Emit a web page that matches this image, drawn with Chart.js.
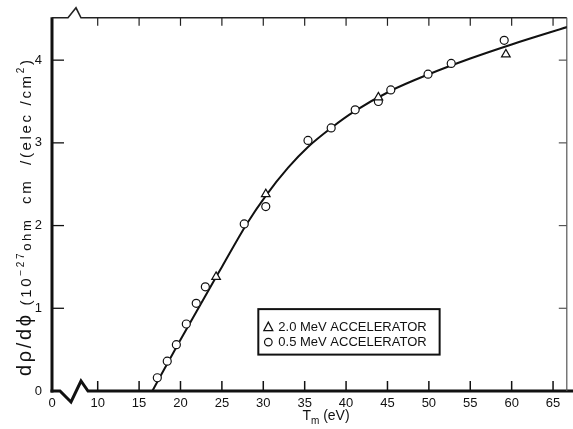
<!DOCTYPE html>
<html><head><meta charset="utf-8">
<script src="https://cdn.jsdelivr.net/npm/chart.js@4.4.1/dist/chart.umd.min.js"></script>
<style>html,body{margin:0;padding:0;background:#fff;}#wrap{width:573px;height:429px;}</style>
</head><body><div id="wrap"><canvas id="c" width="573" height="429"></canvas></div>
<script>
// ---- data ----
const xTicks = [10,15,20,25,30,35,40,45,50,55,60,65];
const yTicks = [0,1,2,3,4];
const circleX = [17.2,18.4,19.5,20.7,21.9,23.0,27.7,30.3,35.4,38.2,41.1,43.9,45.4,49.9,52.7,59.1];
const circleY = [0.16,0.36,0.56,0.81,1.06,1.26,2.02,2.23,3.03,3.18,3.40,3.50,3.64,3.83,3.96,4.24];
const triX = [24.3,30.3,43.9,59.3];
const triY = [1.38,2.38,3.55,4.07];
const curveX = [16.6,20,25,28,30.3,33,35.4,38.2,41,45.4,50,55,60,66.7];
const curveY = [0,0.62,1.50,2.02,2.36,2.70,2.95,3.18,3.38,3.63,3.83,4.02,4.19,4.40];
const legendLabels = ['2.0 MeV ACCELERATOR','0.5 MeV ACCELERATOR'];
const X_MIN = 4.48, X_MAX = 66.66, Y_MIN = 0, Y_MAX = 4.512;

const FONT = "'Liberation Sans', 'DejaVu Sans', sans-serif";
const toPts = (xs, ys) => xs.map((v,i)=>({x:v, y:ys[i]}));

const framePlugin = {
  id:'frame',
  beforeDatasetsDraw(chart){
    const {ctx, chartArea:a, scales:{x,y}} = chart;
    const L=a.left, R=a.right, T=a.top, B=a.bottom, W=chart.width;
    ctx.save();
    ctx.strokeStyle='#111'; ctx.lineJoin='miter'; ctx.lineCap='butt';
    ctx.lineWidth=3;
    ctx.beginPath(); ctx.moveTo(L, T-0.5); ctx.lineTo(L, B+1.5); ctx.stroke();
    ctx.beginPath(); ctx.moveTo(L-1.5,B); ctx.lineTo(L+8,B); ctx.lineTo(L+19,B+11);
    ctx.lineTo(L+29,B-10); ctx.lineTo(L+36,B); ctx.lineTo(W,B); ctx.stroke();
    ctx.lineWidth=1.5;
    xTicks.forEach(v=>{const px=x.getPixelForValue(v); ctx.beginPath(); ctx.moveTo(px,B); ctx.lineTo(px,B-10); ctx.stroke();});
    ctx.lineWidth=1.3;
    yTicks.slice(1).forEach(v=>{const py=y.getPixelForValue(v); ctx.beginPath(); ctx.moveTo(L,py); ctx.lineTo(L+12,py); ctx.stroke();});
    ctx.lineWidth=1.6; ctx.strokeStyle='#222';
    ctx.beginPath(); ctx.moveTo(L,T); ctx.lineTo(L+16,T); ctx.lineTo(L+24,T-10); ctx.lineTo(L+29,T); ctx.lineTo(R,T); ctx.stroke();
    ctx.lineWidth=1.2;
    xTicks.forEach(v=>{const px=x.getPixelForValue(v); ctx.beginPath(); ctx.moveTo(px,T); ctx.lineTo(px,T+8); ctx.stroke();});
    ctx.strokeStyle='#555'; ctx.lineWidth=1.2;
    ctx.beginPath(); ctx.moveTo(R,T); ctx.lineTo(R,B); ctx.stroke();
    yTicks.slice(1).forEach(v=>{const py=y.getPixelForValue(v); ctx.beginPath(); ctx.moveTo(R,py); ctx.lineTo(R-8,py); ctx.stroke();});
    ctx.restore();
  },
  afterDatasetsDraw(chart){
    const {ctx, scales:{x,y}} = chart;
    ctx.save();
    const x0=x.getPixelForValue(29.4), x1=x.getPixelForValue(51.3);
    const y0=y.getPixelForValue(0.99), y1=y.getPixelForValue(0.44);
    ctx.fillStyle='#fff'; ctx.fillRect(x0,y0,x1-x0,y1-y0);
    ctx.strokeStyle='#111'; ctx.lineWidth=2; ctx.strokeRect(x0,y0,x1-x0,y1-y0);
    const rows=[y0+18, y0+33];
    ctx.lineWidth=1.2; ctx.fillStyle='#111';
    const mx=x0+10;
    ctx.beginPath(); ctx.moveTo(mx, rows[0]-5); ctx.lineTo(mx+4.5, rows[0]+3.5); ctx.lineTo(mx-4.5, rows[0]+3.5); ctx.closePath(); ctx.stroke();
    ctx.beginPath(); ctx.arc(mx, rows[1], 3.8, 0, Math.PI*2); ctx.stroke();
    ctx.font='13px '+FONT; ctx.textBaseline='middle'; ctx.textAlign='left';
    ctx.fillText(legendLabels[0], x0+20, rows[0]);
    ctx.fillText(legendLabels[1], x0+20, rows[1]);
    ctx.restore();
  },
  afterDraw(chart){
    const {ctx} = chart;
    ctx.save(); ctx.fillStyle='#111';
    ctx.textBaseline='alphabetic'; ctx.textAlign='left';
    const cx=326, by=420;
    ctx.font='14px '+FONT; const wT=ctx.measureText('T').width; const wE=ctx.measureText(' (eV)').width;
    ctx.font='10px '+FONT; const wm=ctx.measureText('m').width;
    let sx=cx-(wT+wm+wE)/2;
    ctx.font='14px '+FONT; ctx.fillText('T', sx, by); sx+=wT;
    ctx.font='10px '+FONT; ctx.fillText('m', sx, by+4); sx+=wm;
    ctx.font='14px '+FONT; ctx.fillText(' (eV)', sx, by);
    // y title (rotated)
    const pieces=[
      {t:'dρ/dϕ', s:20, dy:0},
      {t:' (10', s:15, dy:0},
      {t:'−27', s:10, dy:-7},
      {t:'ohm', s:13, dy:0},
      {t:'  cm  /(elec /cm', s:15, dy:0},
      {t:'2', s:10, dy:-7},
      {t:')', s:15, dy:0}
    ];
    const target=316;
    let nat=0, n=0;
    pieces.forEach(p=>{ctx.font=p.s+'px '+FONT; for(const ch of p.t){nat+=ctx.measureText(ch).width; n++;}});
    const extra=(target-nat)/(n-1);
    ctx.translate(31, 218); ctx.rotate(-Math.PI/2);
    let px=-target/2;
    pieces.forEach(p=>{ctx.font=p.s+'px '+FONT; for(const ch of p.t){ctx.fillText(ch, px, p.dy); px+=ctx.measureText(ch).width+extra;}});
    ctx.restore();
  }
};

new Chart(document.getElementById('c'), {
  type:'line',
  data:{datasets:[
    {label:'0.5 MeV', data:toPts(circleX,circleY), showLine:false, pointStyle:'circle', pointRadius:4,
     pointBorderWidth:1.2, pointBorderColor:'#111', pointBackgroundColor:'#fff', order:2},
    {label:'2.0 MeV', data:toPts(triX,triY), showLine:false, pointStyle:'triangle', pointRadius:5,
     pointBorderWidth:1.2, pointBorderColor:'#111', pointBackgroundColor:'#fff', order:1},
    {label:'curve', data:toPts(curveX,curveY), pointRadius:0, borderColor:'#111', borderWidth:2,
     cubicInterpolationMode:'monotone', fill:false, order:3}
  ]},
  options:{
    responsive:false, animation:false, events:[],
    layout:{padding:{left:0,right:3,top:12,bottom:0}},
    plugins:{legend:{display:false}, tooltip:{enabled:false}, title:{display:false}},
    scales:{
      x:{type:'linear', min:X_MIN, max:X_MAX,
        afterBuildTicks:s=>{s.ticks=[X_MIN,...xTicks].map(v=>({value:v}));},
        afterFit:s=>{s.height=38;},
        grid:{display:false, drawTicks:false}, border:{display:false},
        ticks:{autoSkip:false, maxRotation:0, padding:5, color:'#111', font:{family:FONT, size:13},
          callback:v=> v===X_MIN ? '0' : String(v)}},
      y:{type:'linear', min:Y_MIN, max:Y_MAX,
        afterBuildTicks:s=>{s.ticks=yTicks.map(v=>({value:v}));},
        afterFit:s=>{s.width=52;},
        grid:{display:false, drawTicks:false}, border:{display:false},
        ticks:{padding:10, color:'#111', font:{family:FONT, size:13}, callback:v=>String(v)}}
    }
  },
  plugins:[framePlugin]
});
</script></body></html>
